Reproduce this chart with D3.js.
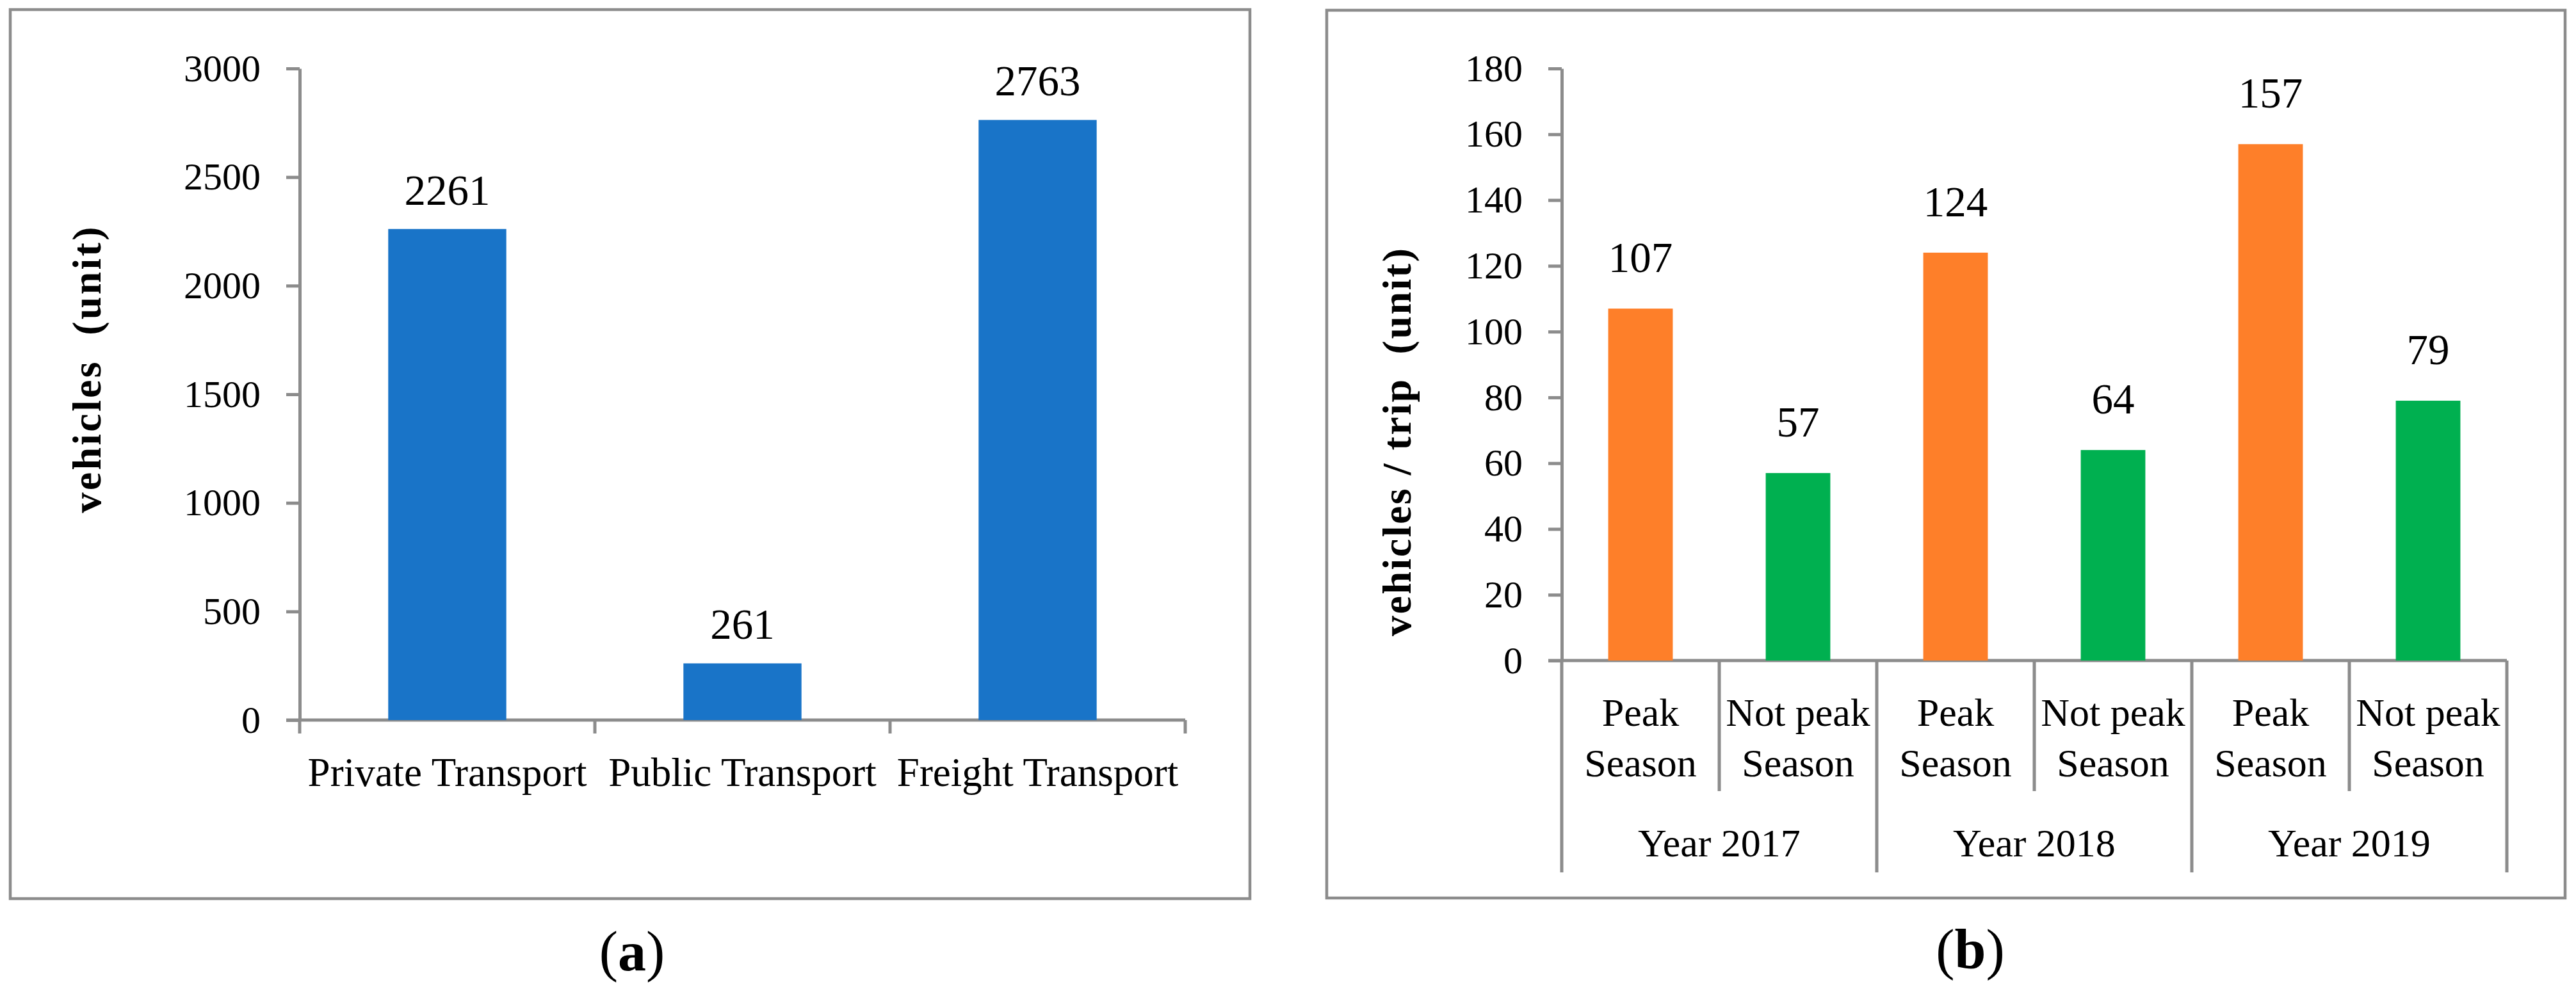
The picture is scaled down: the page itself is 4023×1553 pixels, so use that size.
<!DOCTYPE html>
<html>
<head>
<meta charset="utf-8">
<script src="https://cdn.jsdelivr.net/npm/d3@7"></script>
<style>
  body { margin: 0; background: #fff; }
  svg { display: block; }
  text { font-family: "Liberation Serif", "Times New Roman", serif; fill: #000; }
</style>
</head>
<body>
<div id="chart"></div>
<script>
// panel (a)
const transportTypes = ['Private Transport', 'Public Transport', 'Freight Transport'];
const vehicleCounts = [2261, 261, 2763];
const ticksA = [0, 500, 1000, 1500, 2000, 2500, 3000];

// panel (b)
const years = ['Year 2017', 'Year 2018', 'Year 2019'];
const seasons = ['Peak Season', 'Not peak Season'];
const seasonLines = [['Peak', 'Season'], ['Not peak', 'Season']];
const vehiclesPerTrip = [107, 57, 124, 64, 157, 79];   // year by year, peak then not peak
const ticksB = [0, 20, 40, 60, 80, 100, 120, 140, 160, 180];
const seasonColors = ['#fe7f29', '#00b050'];

const W = 4023, H = 1553;
const grey = '#8c8c8c';

const svg = d3.select('#chart').append('svg')
    .attr('width', W)
    .attr('height', H);

function styleAxis(g) {
    g.select('.domain').attr('stroke', grey).attr('stroke-width', 5);
    g.selectAll('.tick line').attr('stroke', grey).attr('stroke-width', 5);
    g.selectAll('.tick text')
        .attr('font-size', 60)
        .attr('font-family', '"Liberation Serif", "Times New Roman", serif')
        .attr('fill', '#000');
}

// ---------- panel (a) ----------
svg.append('rect')
    .attr('x', 16).attr('y', 15)
    .attr('width', 1936).attr('height', 1389)
    .attr('fill', 'none').attr('stroke', grey).attr('stroke-width', 4.5);

const xA = d3.scaleBand().domain(transportTypes).range([468, 1851]).padding(0);
const yA = d3.scaleLinear().domain([0, 3000]).range([1125, 107]);

// baseline
svg.append('line')
    .attr('x1', 447).attr('x2', xA.range()[1])
    .attr('y1', yA(0)).attr('y2', yA(0))
    .attr('stroke', grey).attr('stroke-width', 5);

// category boundary ticks
const boundsA = transportTypes.map(d => xA(d)).concat([xA.range()[1]]);
svg.selectAll('.bndA')
    .data(boundsA)
    .enter()
    .append('line')
    .attr('x1', d => d).attr('x2', d => d)
    .attr('y1', yA(0)).attr('y2', yA(0) + 21)
    .attr('stroke', grey).attr('stroke-width', 5);

svg.append('g')
    .attr('transform', 'translate(' + xA.range()[0] + ',0)')
    .call(d3.axisLeft(yA).tickValues(ticksA).tickFormat(d3.format('d'))
        .tickSize(21).tickSizeOuter(0).tickPadding(40))
    .call(styleAxis);

const barsA = transportTypes.map((t, i) => ({ name: t, value: vehicleCounts[i] }));

svg.selectAll('.barA')
    .data(barsA)
    .enter()
    .append('rect')
    .attr('class', 'barA')
    .attr('x', d => xA(d.name) + xA.bandwidth() * 0.3)
    .attr('y', d => yA(d.value))
    .attr('width', xA.bandwidth() * 0.4)
    .attr('height', d => yA(0) - yA(d.value))
    .attr('fill', '#1974c8');

svg.selectAll('.lblA')
    .data(barsA)
    .enter()
    .append('text')
    .attr('x', d => xA(d.name) + xA.bandwidth() / 2)
    .attr('y', d => yA(d.value) - 38)
    .attr('text-anchor', 'middle')
    .attr('font-size', 67)
    .text(d => d.value);

svg.selectAll('.catA')
    .data(transportTypes)
    .enter()
    .append('text')
    .attr('x', d => xA(d) + xA.bandwidth() / 2)
    .attr('y', 1228)
    .attr('text-anchor', 'middle')
    .attr('font-size', 63)
    .text(d => d);

svg.append('text')
    .attr('transform', 'translate(157,578) rotate(-90)')
    .attr('text-anchor', 'middle')
    .attr('font-size', 64)
    .attr('font-weight', 'bold')
    .attr('textLength', 447)
    .attr('lengthAdjust', 'spacing')
    .style('white-space', 'pre')
    .text('vehicles  (unit)');

const capA = svg.append('text')
    .attr('x', 987).attr('y', 1516)
    .attr('text-anchor', 'middle')
    .attr('font-size', 88);
capA.append('tspan').text('(');
capA.append('tspan').attr('font-weight', 'bold').text('a');
capA.append('tspan').text(')');

// ---------- panel (b) ----------
svg.append('rect')
    .attr('x', 2072).attr('y', 16)
    .attr('width', 1934).attr('height', 1387)
    .attr('fill', 'none').attr('stroke', grey).attr('stroke-width', 4.5);

const barsB = [];
years.forEach((yr, i) => {
    seasons.forEach((s, j) => {
        barsB.push({ key: yr + '|' + s, year: yr, season: j, value: vehiclesPerTrip[i * 2 + j] });
    });
});

const xB = d3.scaleBand().domain(barsB.map(d => d.key)).range([2439, 3915]).padding(0);
const yB = d3.scaleLinear().domain([0, 180]).range([1032, 107]);
const xYear = d3.scaleBand().domain(years).range(xB.range()).padding(0);

svg.append('line')
    .attr('x1', 2418).attr('x2', xB.range()[1])
    .attr('y1', yB(0)).attr('y2', yB(0))
    .attr('stroke', grey).attr('stroke-width', 5);

const boundsB = barsB.map((d, i) => ({ x: xB(d.key), main: i % 2 === 0 }))
    .concat([{ x: xB.range()[1], main: true }]);
svg.selectAll('.bndB')
    .data(boundsB)
    .enter()
    .append('line')
    .attr('x1', d => d.x).attr('x2', d => d.x)
    .attr('y1', yB(0))
    .attr('y2', d => d.main ? 1363 : 1236)
    .attr('stroke', grey).attr('stroke-width', 5);

svg.append('g')
    .attr('transform', 'translate(' + xB.range()[0] + ',0)')
    .call(d3.axisLeft(yB).tickValues(ticksB).tickFormat(d3.format('d'))
        .tickSize(21).tickSizeOuter(0).tickPadding(40))
    .call(styleAxis);

svg.selectAll('.barB')
    .data(barsB)
    .enter()
    .append('rect')
    .attr('x', d => xB(d.key) + xB.bandwidth() * 0.295)
    .attr('y', d => yB(d.value))
    .attr('width', xB.bandwidth() * 0.41)
    .attr('height', d => yB(0) - yB(d.value))
    .attr('fill', d => seasonColors[d.season]);

svg.selectAll('.lblB')
    .data(barsB)
    .enter()
    .append('text')
    .attr('x', d => xB(d.key) + xB.bandwidth() / 2)
    .attr('y', d => yB(d.value) - 57)
    .attr('text-anchor', 'middle')
    .attr('font-size', 67)
    .text(d => d.value);

const seasonLbl = svg.selectAll('.catB')
    .data(barsB)
    .enter()
    .append('text')
    .attr('text-anchor', 'middle')
    .attr('font-size', 62);
seasonLbl.each(function(d) {
    const cx = xB(d.key) + xB.bandwidth() / 2;
    seasonLines[d.season].forEach((ln, k) => {
        d3.select(this).append('tspan')
            .attr('x', cx)
            .attr('y', 1134 + k * 79)
            .text(ln);
    });
});

svg.selectAll('.yearB')
    .data(years)
    .enter()
    .append('text')
    .attr('x', d => xYear(d) + xYear.bandwidth() / 2)
    .attr('y', 1338)
    .attr('text-anchor', 'middle')
    .attr('font-size', 62)
    .text(d => d);

svg.append('text')
    .attr('transform', 'translate(2203,691) rotate(-90)')
    .attr('text-anchor', 'middle')
    .attr('font-size', 64)
    .attr('font-weight', 'bold')
    .attr('textLength', 606)
    .attr('lengthAdjust', 'spacing')
    .style('white-space', 'pre')
    .text('vehicles / trip  (unit)');

const capB = svg.append('text')
    .attr('x', 3077).attr('y', 1513)
    .attr('text-anchor', 'middle')
    .attr('font-size', 88);
capB.append('tspan').text('(');
capB.append('tspan').attr('font-weight', 'bold').text('b');
capB.append('tspan').text(')');
</script>
</body>
</html>
